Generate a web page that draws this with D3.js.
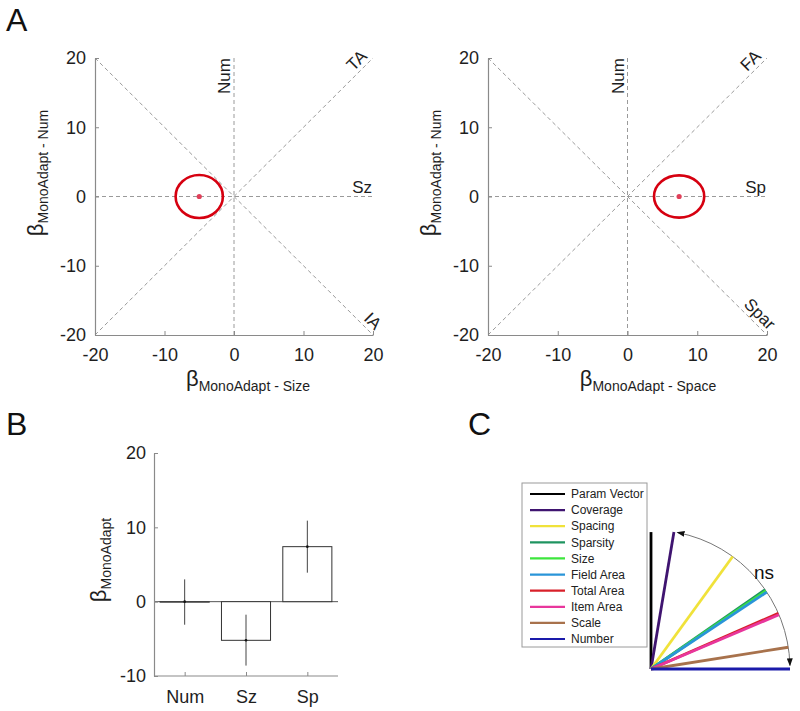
<!DOCTYPE html>
<html><head><meta charset="utf-8">
<script src="https://cdn.jsdelivr.net/npm/d3@7"></script>
<style>
body{margin:0;background:#fff}
svg{font-family:"Liberation Sans",Arial,sans-serif}
</style>
</head><body>
<svg id="chart" width="800" height="711"></svg>
<script>
// ---------- Panel A data ----------
const aTicks = [-20, -10, 0, 10, 20];
const leftRefLabels = ["Num", "TA", "Sz", "IA"];
const rightRefLabels = ["Num", "FA", "Sp", "Spar"];
const leftEllipse = {cx: -5.0, cy: 0, rx: 3.4, ry: 3.1};
const rightEllipse = {cx: 7.4, cy: 0, rx: 3.6, ry: 3.05};
const leftXLabel = "MonoAdapt - Size";
const rightXLabel = "MonoAdapt - Space";
const aYLabel = "MonoAdapt - Num";

// ---------- Panel B data ----------
const bCategories = ["Num", "Sz", "Sp"];
const bMeans = [0, -5.2, 7.4];
const bLower = [-3.1, -8.6, 3.9];
const bUpper = [3.0, -1.75, 10.9];
const bTicks = [-10, 0, 10, 20];

// ---------- Panel C data ----------
const cNames = ["Param Vector", "Coverage", "Spacing", "Sparsity", "Size", "Field Area", "Total Area", "Item Area", "Scale", "Number"];
const cAngles = [90, 80.5, 54, 34.8, 34.2, 33.6, 23.6, 23.0, 9, 0];
const cColors = ["#000000", "#3f1470", "#f0e23a", "#1f9460", "#3de63d", "#2a95d8", "#d8202a", "#e8369c", "#a8724c", "#1a1aaa"];
const cArc = [79, 1.5];

const svg = d3.select("#chart");
const tickColor = "#8a8a8a";
const textColor = "#1e1e1e";
const fmt = d => String(d);

// defs
const defs = svg.append("defs");
defs.append("marker").attr("id", "arr").attr("viewBox", "0 0 8 6")
  .attr("refX", 7).attr("refY", 3).attr("markerWidth", 8).attr("markerHeight", 6)
  .attr("markerUnits", "userSpaceOnUse").attr("orient", "auto-start-reverse")
  .append("path").attr("d", "M0,0 L8,3 L0,6 Z").attr("fill", "#111");

// panel letters
[["A", 6, 31], ["B", 6, 435], ["C", 468, 435]].forEach(([t, x, y]) =>
  svg.append("text").attr("x", x).attr("y", y).attr("font-size", 32).attr("fill", "#111").text(t));

function styleAxis(g) {
  g.select(".domain").attr("stroke", tickColor).attr("stroke-width", 1.2);
  g.selectAll(".tick line").attr("stroke", tickColor);
  g.selectAll(".tick text").attr("fill", textColor).attr("font-size", 18)
    .attr("font-family", "Liberation Sans, Arial, sans-serif");
}

function subLabel(g, sub, bigSize, subSize, dy) {
  const t = g.append("text").attr("text-anchor", "middle").attr("fill", textColor);
  t.append("tspan").attr("font-size", bigSize).text("β");
  t.append("tspan").attr("font-size", subSize).attr("dy", dy).text(sub);
  return t;
}

function panelA(x0, x1, labels, ell, xlab, xlabCx) {
  const x = d3.scaleLinear([-20, 20], [x0, x1]);
  const y = d3.scaleLinear([-20, 20], [335, 58]);
  const g = svg.append("g");
  const refLines = [[[-20, 20], [20, -20]], [[-20, -20], [20, 20]], [[-20, 0], [20, 0]], [[0, -20], [0, 20]]];
  g.selectAll("line.ref").data(refLines).join("line").attr("class", "ref")
    .attr("x1", d => x(d[0][0])).attr("y1", d => y(d[0][1]))
    .attr("x2", d => x(d[1][0])).attr("y2", d => y(d[1][1]))
    .attr("stroke", "#9a9a9a").attr("stroke-width", 1).attr("stroke-dasharray", "4,3");

  const ax = g.append("g").attr("transform", `translate(0,${y(-20)})`)
    .call(d3.axisBottom(x).tickValues(aTicks).tickFormat(fmt).tickSizeInner(-4).tickSizeOuter(0).tickPadding(13));
  styleAxis(ax);
  const ay = g.append("g").attr("transform", `translate(${x(-20)},0)`)
    .call(d3.axisLeft(y).tickValues(aTicks).tickFormat(fmt).tickSizeInner(-4).tickSizeOuter(0).tickPadding(9));
  styleAxis(ay);

  // reference labels
  const fs = 17;
  g.append("text").attr("transform", `translate(${x(0) - 4},${y(20)}) rotate(-90)`)
    .attr("text-anchor", "end").attr("font-size", fs).attr("fill", textColor).text(labels[0]);
  g.append("text").attr("transform", `translate(${x(20)},${y(20)}) rotate(-45)`)
    .attr("x", -3).attr("y", -4).attr("text-anchor", "end").attr("font-size", fs).attr("fill", textColor).text(labels[1]);
  g.append("text").attr("x", x(20) - 1).attr("y", y(0) - 4)
    .attr("text-anchor", "end").attr("font-size", fs).attr("fill", textColor).text(labels[2]);
  g.append("text").attr("transform", `translate(${x(20)},${y(-20)}) rotate(45)`)
    .attr("x", -2).attr("y", -4).attr("text-anchor", "end").attr("font-size", fs).attr("fill", textColor).text(labels[3]);

  // ellipse
  g.append("ellipse").attr("cx", x(ell.cx)).attr("cy", y(ell.cy))
    .attr("rx", x(ell.cx + ell.rx) - x(ell.cx)).attr("ry", y(ell.cy) - y(ell.cy + ell.ry))
    .attr("fill", "none").attr("stroke", "#d60010").attr("stroke-width", 2.6);
  g.append("circle").attr("cx", x(ell.cx)).attr("cy", y(ell.cy)).attr("r", 2.6).attr("fill", "#e0405a");

  // axis labels
  const xl = subLabel(g, xlab, 22, 14, 5);
  xl.attr("x", xlabCx).attr("y", 386);
  subLabel(g.append("g").attr("transform", `translate(${x0 - 52},173) rotate(-90)`), aYLabel, 22, 14, 5);
}

panelA(95, 373, leftRefLabels, leftEllipse, leftXLabel, 248);
panelA(488, 767, rightRefLabels, rightEllipse, rightXLabel, 648);

// ---------- Panel B ----------
(function () {
  const x = d3.scalePoint(bCategories, [154, 338]).padding(0.5);
  const y = d3.scaleLinear([-10, 20], [676, 453]);
  const bw = x.step() * 0.8;
  const g = svg.append("g");
  g.append("line").attr("x1", 154).attr("x2", 338).attr("y1", y(0)).attr("y2", y(0))
    .attr("stroke", "#555").attr("stroke-width", 1);
  const data = bCategories.map((c, i) => ({c, m: bMeans[i], lo: bLower[i], hi: bUpper[i]}));
  g.selectAll("rect.bar").data(data).join("rect").attr("class", "bar")
    .attr("x", d => x(d.c) - bw / 2).attr("width", bw)
    .attr("y", d => y(Math.max(0, d.m))).attr("height", d => Math.max(0.5, Math.abs(y(d.m) - y(0))))
    .attr("fill", "#fff").attr("stroke", "#333").attr("stroke-width", 1);
  g.selectAll("line.err").data(data).join("line").attr("class", "err")
    .attr("x1", d => x(d.c)).attr("x2", d => x(d.c))
    .attr("y1", d => y(d.lo)).attr("y2", d => y(d.hi))
    .attr("stroke", "#444").attr("stroke-width", 1);
  g.selectAll("circle.m").data(data).join("circle").attr("class", "m")
    .attr("cx", d => x(d.c)).attr("cy", d => y(d.m)).attr("r", 1.3).attr("fill", "#111");
  const ax = g.append("g").attr("transform", `translate(0,676)`)
    .call(d3.axisBottom(x).tickSizeInner(-4).tickSizeOuter(0).tickPadding(14));
  styleAxis(ax);
  ax.select(".domain").attr("d", "M154,0H338");
  const ay = g.append("g").attr("transform", `translate(154,0)`)
    .call(d3.axisLeft(y).tickValues(bTicks).tickFormat(fmt).tickSizeInner(-4).tickSizeOuter(0).tickPadding(8));
  styleAxis(ay);
  subLabel(g.append("g").attr("transform", "translate(106,560) rotate(-90)"), "MonoAdapt", 22, 14, 5);
})();

// ---------- Panel C ----------
(function () {
  const ox = 651, oy = 669;
  const r = d3.scaleLinear([0, 1], [0, 139]);
  const pt = (deg, k) => [ox + r(k) * Math.cos(deg * Math.PI / 180), oy - r(k) * Math.sin(deg * Math.PI / 180)];
  const g = svg.append("g");
  g.append("rect").attr("x", 522).attr("y", 483).attr("width", 125).attr("height", 164)
    .attr("fill", "#fff").attr("stroke", "#9a9a9a").attr("stroke-width", 1);
  const rows = cNames.map((n, i) => ({n, c: cColors[i], a: cAngles[i], i}));
  const ly = d3.scalePoint(d3.range(cNames.length), [494, 639]);
  g.selectAll("line.leg").data(rows).join("line").attr("class", "leg")
    .attr("x1", 530).attr("x2", 565).attr("y1", d => ly(d.i)).attr("y2", d => ly(d.i))
    .attr("stroke", d => d.c).attr("stroke-width", 2.2);
  g.selectAll("text.leg").data(rows).join("text").attr("class", "leg")
    .attr("x", 571).attr("y", d => ly(d.i)).attr("dy", "0.35em")
    .attr("font-size", 12).attr("fill", "#222").text(d => d.n);
  const a0 = pt(cArc[0], 1), a1 = pt(cArc[1], 1);
  g.append("path").attr("d", `M${a0[0]},${a0[1]} A${r(1)},${r(1)} 0 0 1 ${a1[0]},${a1[1]}`)
    .attr("fill", "none").attr("stroke", "#777").attr("stroke-width", 1)
    .attr("marker-start", "url(#arr)").attr("marker-end", "url(#arr)");
  g.selectAll("line.vec").data(rows).join("line").attr("class", "vec")
    .attr("x1", ox).attr("y1", oy)
    .attr("x2", d => pt(d.a, d.i === 0 ? 0.985 : 1)[0]).attr("y2", d => pt(d.a, d.i === 0 ? 0.985 : 1)[1])
    .attr("stroke", d => d.c).attr("stroke-width", 2.8);
  g.append("text").attr("x", 754).attr("y", 579).attr("font-size", 19).attr("fill", "#111").text("ns");
})();
</script>
</body></html>
